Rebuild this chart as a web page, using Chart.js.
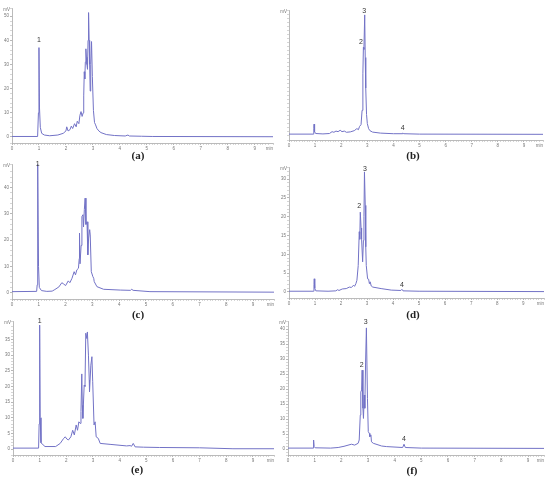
<!DOCTYPE html>
<html>
<head>
<meta charset="utf-8">
<script src="https://cdn.jsdelivr.net/npm/chart.js@4.4.0/dist/chart.umd.min.js"></script>
<style>
  body { margin: 0; background: #fff; }
  #page { position: relative; width: 550px; height: 479px; overflow: hidden; background: #fff; }
  canvas { position: absolute; }
  .cap { position: absolute; font: bold 11px "Liberation Serif", serif; color: #222; transform: translateX(-50%); }
</style>
</head>
<body>
<div id="page"></div>
<script>
// chromatogram traces, [time (min), signal]
const traceA = [[0,0.2],[0.95,0.2],[0.98,10],[1.0,37],[1.02,12],[1.05,4],[1.1,1.5],[1.2,0.8],[1.4,0.5],[1.7,0.8],[1.9,1.5],[2.0,2.5],[2.03,4.2],[2.08,2.5],[2.15,3],[2.2,4.5],[2.25,3.5],[2.32,5.5],[2.38,4.2],[2.42,6.5],[2.48,5.5],[2.52,9],[2.56,10.5],[2.6,8.5],[2.64,10],[2.66,17],[2.68,27],[2.7,24],[2.72,31],[2.74,36.5],[2.76,33],[2.78,30],[2.8,28],[2.82,40],[2.84,51.5],[2.86,40],[2.88,30],[2.9,19],[2.92,30],[2.95,39.5],[2.98,25],[3.02,11],[3.06,6],[3.1,5],[3.15,3.5],[3.22,2.5],[3.3,1.8],[3.5,1],[3.8,0.6],[4.2,0.4],[4.3,0.8],[4.35,0.4],[4.8,0.3],[5.2,0.2],[9.7,0.1]]
const traceB = [[0,0.3],[0.93,0.3],[0.95,3],[0.96,5.2],[0.98,1.5],[1.02,0.6],[1.3,0.4],[1.55,0.6],[1.65,1.5],[1.72,1.2],[1.8,1.8],[1.88,1.5],[1.96,2.2],[2.03,1.5],[2.12,1.8],[2.2,1.2],[2.35,1.4],[2.5,2],[2.6,3],[2.66,2.5],[2.7,4],[2.76,5],[2.8,12],[2.83,30],[2.85,43],[2.87,42],[2.9,59],[2.92,38],[2.94,23],[2.97,10],[3.0,5.5],[3.05,3],[3.1,2],[3.2,1.3],[3.5,0.8],[4.0,0.5],[4.33,0.5],[4.36,0.9],[4.39,0.5],[5,0.3],[9.73,0.2]]
const traceC = [[0,0.4],[0.92,0.5],[0.94,3],[0.96,48.8],[0.99,10],[1.02,2],[1.1,0.8],[1.3,0.5],[1.5,0.6],[1.6,1.2],[1.75,2.2],[1.86,3.8],[1.93,3.3],[2.0,2.7],[2.1,4.5],[2.16,3.8],[2.24,5.5],[2.32,8],[2.37,6.8],[2.42,8.7],[2.48,9.3],[2.51,13],[2.52,22.7],[2.54,11],[2.58,18],[2.61,29],[2.65,29.7],[2.67,25],[2.7,31.6],[2.73,36],[2.76,26],[2.8,27],[2.83,14.4],[2.86,20.8],[2.9,24],[2.92,22],[2.96,8],[3.02,6.1],[3.05,5.5],[3.07,4.2],[3.17,2.3],[3.42,1.3],[4.04,1],[4.42,0.9],[4.47,1.3],[4.52,0.9],[5.15,0.4],[9.78,0.2]]
const traceD = [[0,0.2],[0.94,0.2],[0.96,2],[0.97,3.5],[0.99,1],[1.03,0.3],[1.5,0.2],[1.8,0.3],[1.87,0.6],[1.92,0.4],[2.05,0.8],[2.2,0.9],[2.32,1.3],[2.4,1.2],[2.48,1.8],[2.52,1.5],[2.57,2.2],[2.61,3.1],[2.66,7],[2.7,16],[2.72,14],[2.74,21.2],[2.77,17],[2.79,14],[2.83,8],[2.86,13.7],[2.88,20],[2.9,31.9],[2.93,23],[2.95,12],[2.97,7],[3.02,3.5],[3.06,3.4],[3.09,2.2],[3.12,2.7],[3.16,1.6],[3.22,1.3],[3.54,0.9],[3.93,0.5],[4.3,0.4],[4.34,0.7],[4.38,0.3],[5,0.2],[9.8,0.1]]
const traceE = [[0,0.3],[0.96,0.3],[0.98,8],[1.0,39.6],[1.02,10],[1.05,2],[1.2,0.8],[1.6,0.8],[1.77,1.8],[1.9,3.4],[1.96,3.9],[2.02,3.2],[2.08,2.9],[2.17,3.9],[2.24,6],[2.3,4.5],[2.37,7.7],[2.42,6],[2.47,8.7],[2.52,8.2],[2.55,12],[2.58,24],[2.6,14],[2.62,9.8],[2.67,20.4],[2.7,20],[2.73,37],[2.77,35.3],[2.79,37.4],[2.83,30],[2.86,22],[2.87,18.3],[2.92,26.8],[2.96,29.5],[2.99,21.5],[3.04,7.7],[3.08,8.7],[3.12,3.9],[3.2,3.4],[3.27,1.8],[3.64,1.5],[4.26,1],[4.39,1.1],[4.45,0.9],[4.51,1.8],[4.58,0.7],[4.89,0.6],[5.5,0.5],[7.0,0.4],[8.25,0.1],[9.79,0.1]]
const traceF = [[0,0.3],[0.94,0.3],[0.96,3],[0.98,0.8],[1.02,0.4],[1.6,0.3],[1.88,0.5],[2.1,0.9],[2.38,1.6],[2.5,1.3],[2.63,1.9],[2.67,3],[2.71,11.3],[2.73,19],[2.76,19.7],[2.78,26.3],[2.81,13.6],[2.83,10.2],[2.86,18],[2.88,13.6],[2.91,29],[2.94,40.4],[2.98,16.9],[3.01,5.8],[3.05,5.2],[3.07,4.1],[3.11,4.7],[3.13,2.4],[3.2,1.9],[3.51,1],[3.7,0.8],[4.3,0.5],[4.35,1.6],[4.4,0.5],[5,0.3],[9.6,0.2]]

// peak numbers [time, height, name]
const peaksA = [[1.0, 40, '1']]
const peaksB = [[2.76, 45.7, '2'], [2.88, 61, '3'], [4.36, 3.1, '4']]
const peaksC = [[0.96, 48.8, '1']]
const peaksD = [[2.7, 22.7, '2'], [2.92, 32.6, '3'], [4.34, 1.9, '4']]
const peaksE = [[1.0, 40.9, '1']]
const peaksF = [[2.76, 28, '2'], [2.91, 42.4, '3'], [4.35, 3.3, '4']]

const captions = ['(a)', '(b)', '(c)', '(d)', '(e)', '(f)']
const yMajor = [10, 10, 10, 5, 5, 5]
const yMinor = [2, 2, 2, 1, 1, 1]
const unitY = 'mV'
const unitX = 'min'

// where each plot area sits on the page
const panels = [
  {trace: traceA, peaks: peaksA, L: 12, T: 8, R: 273, B: 143, ymin: -2.5, ymax: 53.4, xmax: 9.68, cx: 138, cy: 149},
  {trace: traceB, peaks: peaksB, L: 289, T: 10, R: 543, B: 140, ymin: -2.6, ymax: 61.4, xmax: 9.73, cx: 413, cy: 149},
  {trace: traceC, peaks: peaksC, L: 12, T: 164, R: 274, B: 299, ymin: -2.4, ymax: 49, xmax: 9.78, cx: 138, cy: 308},
  {trace: traceD, peaks: peaksD, L: 289, T: 167, R: 544, B: 298, ymin: -1.6, ymax: 33.2, xmax: 9.8, cx: 413, cy: 308},
  {trace: traceE, peaks: peaksE, L: 13, T: 321, R: 274, B: 455, ymin: -1.9, ymax: 40.9, xmax: 9.79, cx: 137, cy: 463},
  {trace: traceF, peaks: peaksF, L: 288, T: 321, R: 544, B: 455, ymin: -2, ymax: 42.7, xmax: 9.6, cx: 412, cy: 464}
]

const annot = {
  id: 'annot',
  afterDraw(chart, args, opts) {
    const ctx = chart.ctx
    const area = chart.chartArea
    const x = chart.scales.x, y = chart.scales.y
    ctx.save()
    ctx.fillStyle = '#333'
    ctx.font = '7px "Liberation Sans"'
    ctx.textAlign = 'center'
    ctx.textBaseline = 'middle'
    opts.peaks.forEach(p => {
      ctx.fillText(p[2], x.getPixelForValue(p[0]), y.getPixelForValue(p[1]))
    })
    ctx.fillStyle = '#777'
    ctx.font = '4.5px "Liberation Sans"'
    ctx.textAlign = 'right'
    ctx.fillText(unitY, area.left - 2, area.top + 2)
    ctx.fillText(unitX, area.right, x.top + 6)
    ctx.restore()
  }
}

const isMult = (v, m) => Math.abs(v / m - Math.round(v / m)) < 1e-6

const page = document.getElementById('page')
const padL = 16, padT = 6, padR = 4, padB = 12

panels.forEach((p, i) => {
  const cv = document.createElement('canvas')
  const w = Math.round(p.R - p.L + padL + padR)
  const h = Math.round(p.B - p.T + padT + padB)
  cv.width = w
  cv.height = h
  cv.style.left = Math.round(p.L - padL) + 'px'
  cv.style.top = Math.round(p.T - padT) + 'px'
  page.appendChild(cv)

  const cap = document.createElement('div')
  cap.className = 'cap'
  cap.textContent = captions[i]
  cap.style.left = p.cx + 'px'
  cap.style.top = p.cy + 'px'
  page.appendChild(cap)

  new Chart(cv.getContext('2d'), {
    type: 'line',
    data: {
      datasets: [{
        data: p.trace.map(d => ({x: d[0], y: d[1]})),
        borderColor: '#7272c6',
        borderWidth: 1,
        pointRadius: 0,
        tension: 0,
        fill: false
      }]
    },
    options: {
      responsive: false,
      animation: false,
      devicePixelRatio: 1,
      layout: {padding: {top: padT, right: padR, left: 0, bottom: 0}},
      plugins: {
        legend: {display: false},
        tooltip: {enabled: false},
        annot: {peaks: p.peaks}
      },
      scales: {
        x: {
          type: 'linear',
          min: 0,
          max: p.xmax,
          afterFit: s => { s.height = padB },
          grid: {
            drawOnChartArea: false,
            tickLength: 2,
            tickColor: c => isMult(c.tick.value, 1) ? '#888' : '#bbb',
            lineWidth: 0.6
          },
          border: {color: '#aaa', width: 0.8},
          ticks: {
            stepSize: 0.1,
            autoSkip: false,
            maxRotation: 0,
            padding: 1,
            color: '#777',
            font: {size: 4.5, family: 'Liberation Sans'},
            callback: v => isMult(v, 1) && v < 9.5 ? String(Math.round(v)) : ''
          }
        },
        y: {
          min: p.ymin,
          max: p.ymax,
          afterFit: s => { s.width = padL },
          grid: {
            drawOnChartArea: false,
            tickLength: 2,
            tickColor: c => isMult(c.tick.value, yMajor[i]) ? '#888' : '#bbb',
            lineWidth: 0.6
          },
          border: {color: '#aaa', width: 0.8},
          ticks: {
            stepSize: yMinor[i],
            autoSkip: false,
            padding: 1,
            color: '#777',
            font: {size: 4.5, family: 'Liberation Sans'},
            callback: v => isMult(v, yMajor[i]) && v >= 0 && v < p.ymax - 2 ? String(Math.round(v)) : ''
          }
        }
      }
    },
    plugins: [annot]
  })
})
</script>
</body>
</html>
